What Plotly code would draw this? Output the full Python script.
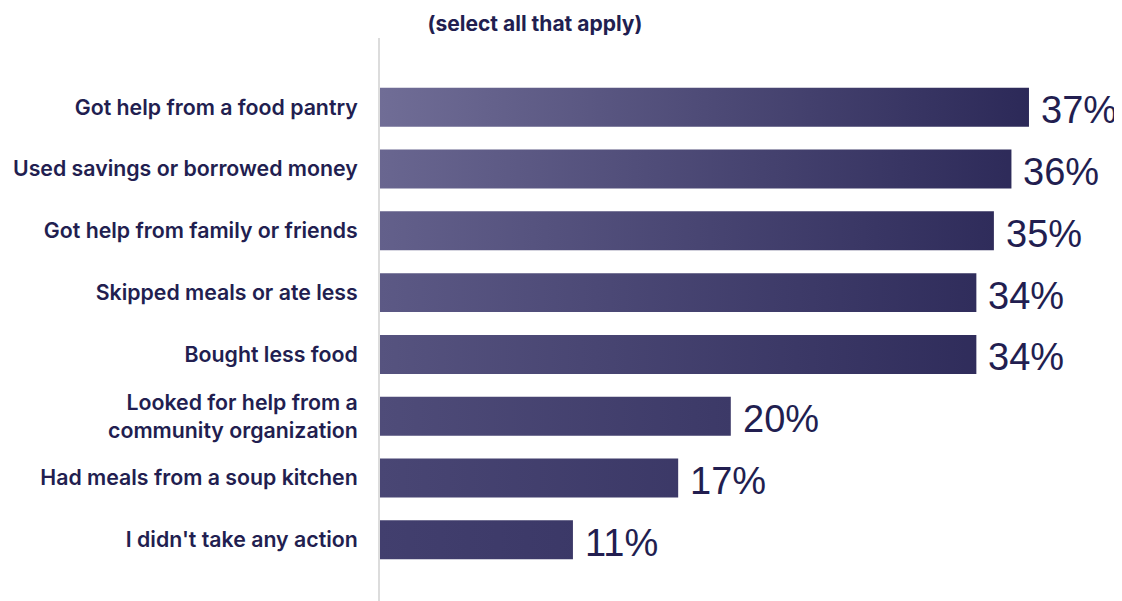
import plotly.graph_objects as go

categories = [
    "Got help from a food pantry",
    "Used savings or borrowed money",
    "Got help from family or friends",
    "Skipped meals or ate less",
    "Bought less food",
    "Looked for help from a<br>community organization",
    "Had meals from a soup kitchen",
    "I didn't take any action",
]
values = [37, 36, 35, 34, 34, 20, 17, 11]
title_text = "(select all that apply)"

TEXT = "#221e50"
RIGHT = "#2c2958"

# page body has an 8px default margin; the figure is sized to fill the rest
W, H, OFF = 1114, 593, 8


def lerp_hex(a, b, t):
    a = [int(a[i:i + 2], 16) for i in (1, 3, 5)]
    b = [int(b[i:i + 2], 16) for i in (1, 3, 5)]
    c = [round(a[k] + (b[k] - a[k]) * t) for k in range(3)]
    return "#%02x%02x%02x" % tuple(c)


fig = go.Figure()
h = 0.315
n = len(values)
vmax = max(values)
for i, v in enumerate(values):
    left = lerp_hex("#706d96", "#423f6e", i / (n - 1))
    fig.add_trace(go.Scatter(
        x=[0, v, v, 0, 0],
        y=[i - h, i - h, i + h, i + h, i - h],
        mode="lines",
        line=dict(width=0),
        fill="toself",
        fillgradient=dict(type="horizontal", start=0, stop=vmax,
                          colorscale=[[0, left], [1, RIGHT]]),
        hoverinfo="skip",
        showlegend=False,
    ))
    fig.add_annotation(
        x=v, y=i, xref="x", yref="y", text=f"{v}%", showarrow=False,
        xanchor="left", yanchor="middle", xshift=10, yshift=-3,
        font=dict(family="Liberation Sans, Arial, sans-serif", size=38, color=TEXT),
    )

fig.update_layout(
    width=W, height=H,
    margin=dict(l=380 - OFF, r=0, t=38 - OFF, b=0, autoexpand=False),
    paper_bgcolor="white", plot_bgcolor="white",
    title=dict(text=f"<b>{title_text}</b>", x=(535 - OFF) / W, xanchor="center",
               y=1 - (24 - OFF) / H, yanchor="middle", automargin=False,
               font=dict(family="Inter, sans-serif", size=21, color=TEXT)),
    xaxis=dict(range=[0, 742 / 17.54], showgrid=False, zeroline=False,
               showticklabels=False, showline=False, fixedrange=True,
               automargin=False),
    yaxis=dict(range=[7.99, -1.12], tickmode="array", tickvals=list(range(n)),
               ticktext=categories, showgrid=False, zeroline=False,
               showline=True, linecolor="#dcdcdc", linewidth=2,
               ticks="", ticklabelstandoff=16, automargin=False,
               tickfont=dict(family="Inter, sans-serif", size=21.3, color=TEXT, weight=600)),
)

fig.write_html("out.html")
